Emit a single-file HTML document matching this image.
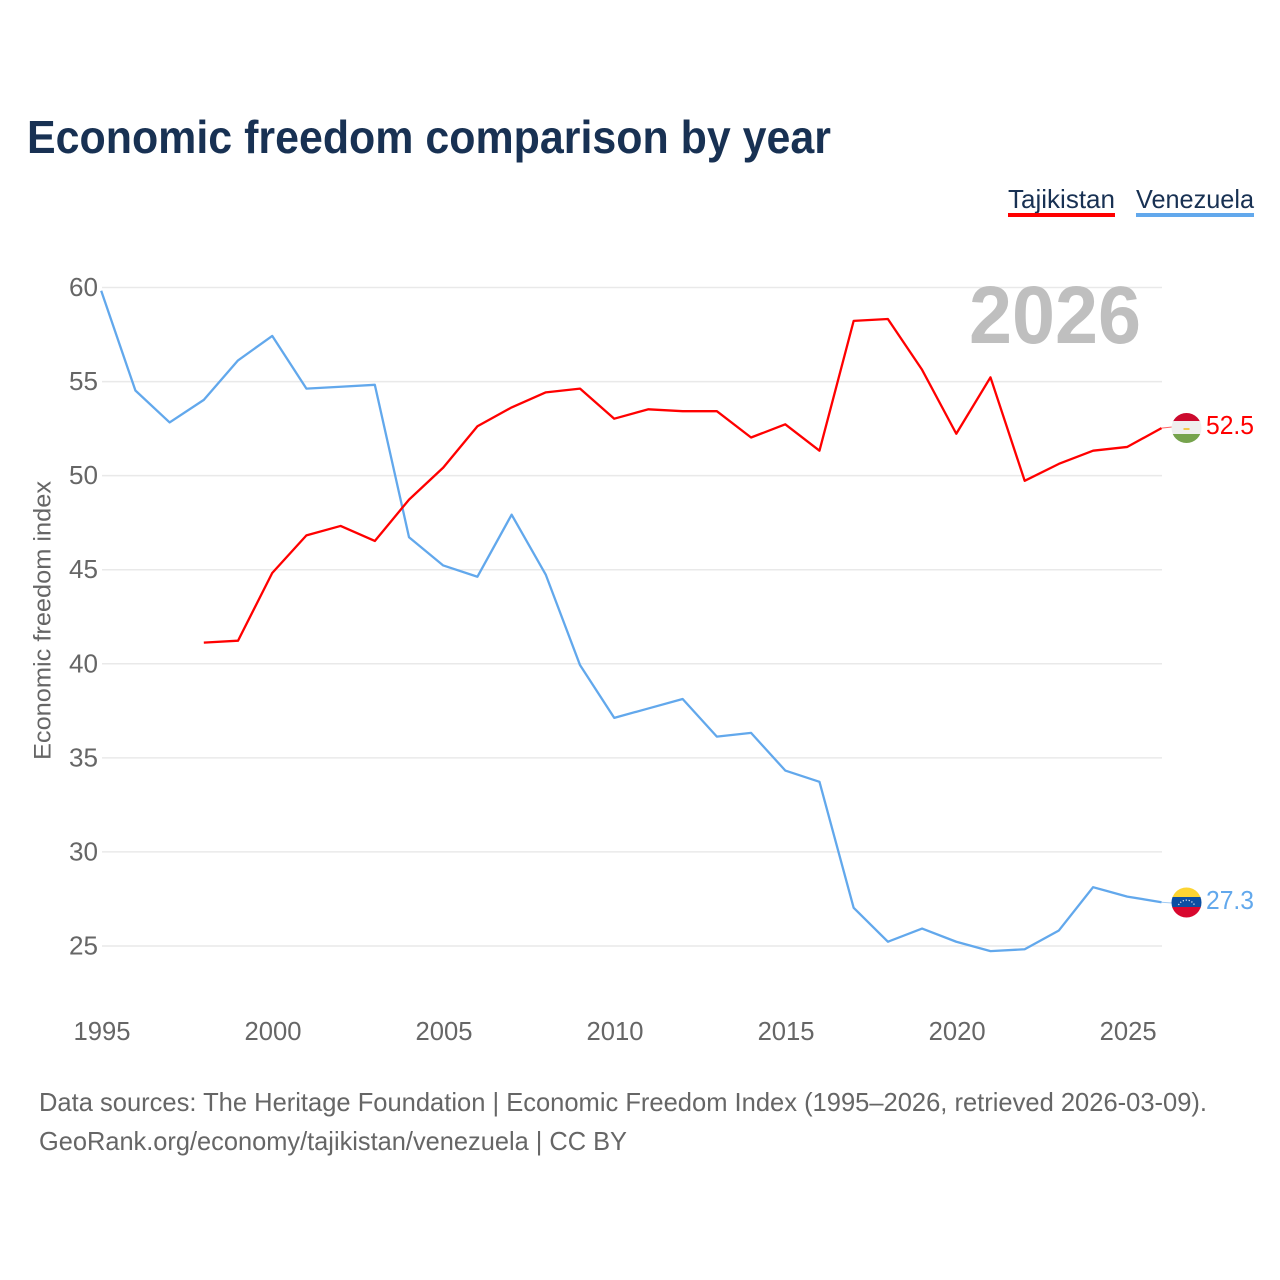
<!DOCTYPE html>
<html lang="en">
<head>
<meta charset="utf-8">
<title>Economic freedom comparison by year</title>
<style>
html,body{margin:0;padding:0;background:#fff;width:1280px;height:1280px;overflow:hidden}
svg{display:block}
text{font-family:"Liberation Sans",sans-serif}
</style>
</head>
<body>
<svg id="chart" xmlns="http://www.w3.org/2000/svg" width="1280" height="1280" viewBox="0 0 1280 1280">
  <defs>
    <clipPath id="flag-clip-tj"><circle cx="1186.5" cy="428" r="15"/></clipPath>
    <clipPath id="flag-clip-ve"><circle cx="1186.5" cy="902.5" r="15"/></clipPath>
  </defs>
  <text x="27" y="153" font-size="46" font-weight="700" fill="#183153" textLength="804" lengthAdjust="spacingAndGlyphs">Economic freedom comparison by year</text>

  <g>
    <text x="1008" y="208" font-size="26" fill="#183153" textLength="107" lengthAdjust="spacingAndGlyphs">Tajikistan</text>
    <rect x="1008" y="213" width="107" height="4" fill="#ff0000"/>
  </g>
  <g>
    <text x="1136" y="208" font-size="26" fill="#183153" textLength="118" lengthAdjust="spacingAndGlyphs">Venezuela</text>
    <rect x="1136" y="213" width="118" height="4" fill="#62a8ec"/>
  </g>

  <g id="grid"></g>
  <g id="yticks"></g>
  <g id="xticks"></g>

  <text transform="translate(50.5,760) rotate(-90)" x="0" y="0" font-size="24" fill="#666666" textLength="279" lengthAdjust="spacingAndGlyphs">Economic freedom index</text>

  <text x="969" y="343" font-size="82" font-weight="700" fill="#bfbfbf" textLength="172" lengthAdjust="spacingAndGlyphs">2026</text>

  <g id="series"></g>

  <g clip-path="url(#flag-clip-tj)">
    <rect x="1171" y="413" width="31" height="9" fill="#cc0a2e"/>
    <rect x="1171" y="421" width="31" height="14" fill="#efefef"/>
    <rect x="1171" y="434" width="31" height="9" fill="#76a34d"/>
    <rect x="1183.5" y="428" width="6" height="2" fill="#f2c94c"/>
  </g>
  <g clip-path="url(#flag-clip-ve)">
    <rect x="1171" y="887" width="31" height="11" fill="#fcd433"/>
    <rect x="1171" y="897" width="31" height="11" fill="#0b4ea2"/>
    <rect x="1171" y="907" width="31" height="11" fill="#d8072e"/>
    <path d="M1178.5 905 A9 9 0 0 1 1194.5 905" fill="none" stroke="#e8eef8" stroke-width="1.2" stroke-dasharray="1.2 1.8"/>
  </g>

  <text id="label-tj" x="1206" y="434" font-size="26" fill="#ff0000" textLength="48" lengthAdjust="spacingAndGlyphs"></text>
  <text id="label-ve" x="1206" y="909" font-size="26" fill="#62a8ec" textLength="48" lengthAdjust="spacingAndGlyphs"></text>

  <text x="39" y="1111" font-size="26" fill="#666666" textLength="1168" lengthAdjust="spacingAndGlyphs">Data sources: The Heritage Foundation | Economic Freedom Index (1995–2026, retrieved 2026-03-09).</text>
  <text x="39" y="1150" font-size="26" fill="#666666" textLength="588" lengthAdjust="spacingAndGlyphs">GeoRank.org/economy/tajikistan/venezuela | CC BY</text>
</svg>
<script>
const yearsVenezuela = [1995,1996,1997,1998,1999,2000,2001,2002,2003,2004,2005,2006,2007,2008,2009,2010,2011,2012,2013,2014,2015,2016,2017,2018,2019,2020,2021,2022,2023,2024,2025,2026];
const valuesVenezuela = [59.8,54.5,52.8,54.0,56.1,57.4,54.6,54.7,54.8,46.7,45.2,44.6,47.9,44.7,39.9,37.1,37.6,38.1,36.1,36.3,34.3,33.7,27.0,25.2,25.9,25.2,24.7,24.8,25.8,28.1,27.6,27.3];
const yearsTajikistan = [1998,1999,2000,2001,2002,2003,2004,2005,2006,2007,2008,2009,2010,2011,2012,2013,2014,2015,2016,2017,2018,2019,2020,2021,2022,2023,2024,2025,2026];
const valuesTajikistan = [41.1,41.2,44.8,46.8,47.3,46.5,48.7,50.4,52.6,53.6,54.4,54.6,53.0,53.5,53.4,53.4,52.0,52.7,51.3,58.2,58.3,55.6,52.2,55.2,49.7,50.6,51.3,51.5,52.5];
const yTicks = [25,30,35,40,45,50,55,60];
const xTicks = [1995,2000,2005,2010,2015,2020,2025];

const NS = 'http://www.w3.org/2000/svg';
function xScale(year){ return 101.2 + (year - 1995) * (1161.5 - 101.2) / (2026 - 1995); }
function yScale(v){ return 287 + (60 - v) * (945.5 - 287) / (60 - 25); }
function make(tag, attrs, parent){
  const el = document.createElementNS(NS, tag);
  for (const k in attrs) el.setAttribute(k, attrs[k]);
  parent.appendChild(el);
  return el;
}
const gridG = document.getElementById('grid');
const yG = document.getElementById('yticks');
const xG = document.getElementById('xticks');
const sG = document.getElementById('series');

yTicks.forEach(function(t){
  const line = make('line', {x1:102, x2:1162, y1:yScale(t)+0.5, y2:yScale(t)+0.5, stroke:'#e9e9e9', 'stroke-width':1.5}, gridG);
  
  
  const label = make('text', {x:98, y:yScale(t)+9, 'text-anchor':'end', 'font-size':26, fill:'#666666', textLength:29, lengthAdjust:'spacingAndGlyphs'}, yG);
  
  
  label.textContent = t;
});

xTicks.forEach(function(t){
  const label = make('text', {x:xScale(t)+0.8, y:1040, 'text-anchor':'middle', 'font-size':25.5, fill:'#666666', textLength:57, lengthAdjust:'spacingAndGlyphs'}, xG);
  
  
  label.textContent = t;
});

function drawSeries(years, values, color){
  const pts = years.map(function(y, i){ return xScale(y).toFixed(2) + ',' + yScale(values[i]).toFixed(2); }).join(' ');
  return make('polyline', {points:pts, fill:'none', stroke:color, 'stroke-width':2.3, 'stroke-linejoin':'round'}, sG);
}
function drawConnector(value, targetY, color){
  return make('line', {x1:1161.5, x2:1172, y1:yScale(value), y2:targetY, stroke:color, 'stroke-width':1, opacity:0.6}, sG);
}

const lineVe = drawSeries(yearsVenezuela, valuesVenezuela, '#62a8ec');


const lineTj = drawSeries(yearsTajikistan, valuesTajikistan, '#ff0000');



const connVe = drawConnector(valuesVenezuela[valuesVenezuela.length - 1], 903, '#62a8ec');


const connTj = drawConnector(valuesTajikistan[valuesTajikistan.length - 1], 427, '#ff0000');



document.getElementById('label-tj').textContent = valuesTajikistan[valuesTajikistan.length - 1].toFixed(1);
document.getElementById('label-ve').textContent = valuesVenezuela[valuesVenezuela.length - 1].toFixed(1);
</script>
</body>
</html>
